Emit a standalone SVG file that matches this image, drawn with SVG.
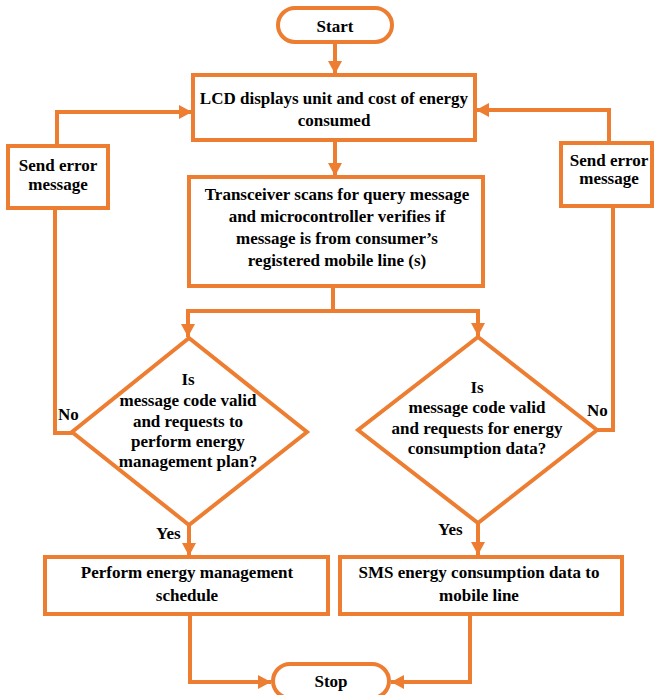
<svg xmlns="http://www.w3.org/2000/svg" width="655" height="695" viewBox="0 0 655 695">
<style>
.box{fill:#fff;stroke:#ED7D31;stroke-width:4}
.ln{fill:none;stroke:#ED7D31;stroke-width:4;stroke-linejoin:miter}
.t{font-family:'Liberation Serif','DejaVu Serif',serif;font-weight:bold;font-size:17px;fill:#000;text-anchor:middle}
.l{font-family:'Liberation Serif','DejaVu Serif',serif;font-weight:bold;font-size:17px;fill:#000}
</style>
<defs>
<marker id="ah" markerUnits="userSpaceOnUse" markerWidth="14" markerHeight="14" viewBox="0 0 14 14" refX="13" refY="7" orient="auto">
<path d="M0,0 L13,7 L0,14 Z" fill="#ED7D31"/>
</marker>
</defs>
<rect width="655" height="695" fill="#fff"/>
<g id="connectors">
<path class="ln" d="M335,42 V74" marker-end="url(#ah)"/>
<path class="ln" d="M335,141 V176" marker-end="url(#ah)"/>
<path class="ln" d="M333,286 V311"/>
<path class="ln" d="M188,311 H478"/>
<path class="ln" d="M188,309 V337" marker-end="url(#ah)"/>
<path class="ln" d="M478,309 V336" marker-end="url(#ah)"/>
<path class="ln" d="M189,525 V556" marker-end="url(#ah)"/>
<path class="ln" d="M478,523 V555" marker-end="url(#ah)"/>
<path class="ln" d="M190,614 V682 H271" marker-end="url(#ah)"/>
<path class="ln" d="M470,614 V682 H391" marker-end="url(#ah)"/>
<path class="ln" d="M73,433 H55 V208"/>
<path class="ln" d="M57,145 V112 H192" marker-end="url(#ah)"/>
<path class="ln" d="M597,430 H613 V206"/>
<path class="ln" d="M609,142 V110 H476" marker-end="url(#ah)"/>
</g>
<g id="start">
<rect class="box" x="278" y="8" width="114" height="34" rx="17"/>
<text class="t" x="335" y="32">Start</text>
</g>
<g id="lcd">
<rect class="box" x="193" y="75" width="282" height="65"/>
<text class="t" x="334" y="104">LCD displays unit and cost of energy</text>
<text class="t" x="334" y="126">consumed</text>
</g>
<g id="err-left">
<rect class="box" x="8" y="146" width="100" height="62"/>
<text class="t" x="58" y="171">Send error</text>
<text class="t" x="58" y="190">message</text>
</g>
<g id="err-right">
<rect class="box" x="561" y="143" width="91" height="63"/>
<text class="t" x="609" y="166">Send error</text>
<text class="t" x="609" y="184">message</text>
</g>
<g id="transceiver">
<rect class="box" x="189" y="177" width="294" height="109"/>
<text class="t" x="337" y="200">Transceiver scans for query message</text>
<text class="t" x="337" y="222">and microcontroller verifies if</text>
<text class="t" x="337" y="244">message is from consumer’s</text>
<text class="t" x="337" y="266">registered mobile line (s)</text>
</g>
<g id="decision-left">
<polygon class="box" points="189,338 307,432 189,525 72,432"/>
<text class="t" x="188" y="385">Is</text>
<text class="t" x="188" y="406">message code valid</text>
<text class="t" x="188" y="427">and requests to</text>
<text class="t" x="188" y="447">perform energy</text>
<text class="t" x="188" y="467">management plan?</text>
<text class="l" x="58" y="420">No</text>
<text class="l" x="156" y="539">Yes</text>
</g>
<g id="decision-right">
<polygon class="box" points="478,337 597,430 478,523 358,430"/>
<text class="t" x="477" y="393">Is</text>
<text class="t" x="477" y="413">message code valid</text>
<text class="t" x="477" y="434">and requests for energy</text>
<text class="t" x="477" y="454">consumption data?</text>
<text class="l" x="587" y="416">No</text>
<text class="l" x="438" y="535">Yes</text>
</g>
<g id="perform">
<rect class="box" x="45" y="557" width="283" height="57"/>
<text class="t" x="187" y="578">Perform energy management</text>
<text class="t" x="187" y="601">schedule</text>
</g>
<g id="sms">
<rect class="box" x="340" y="557" width="282" height="57"/>
<text class="t" x="479" y="578">SMS energy consumption data to</text>
<text class="t" x="479" y="601">mobile line</text>
</g>
<g id="stop">
<rect class="box" x="273" y="664" width="116" height="34" rx="17"/>
<text class="t" x="331" y="687">Stop</text>
</g>
</svg>
